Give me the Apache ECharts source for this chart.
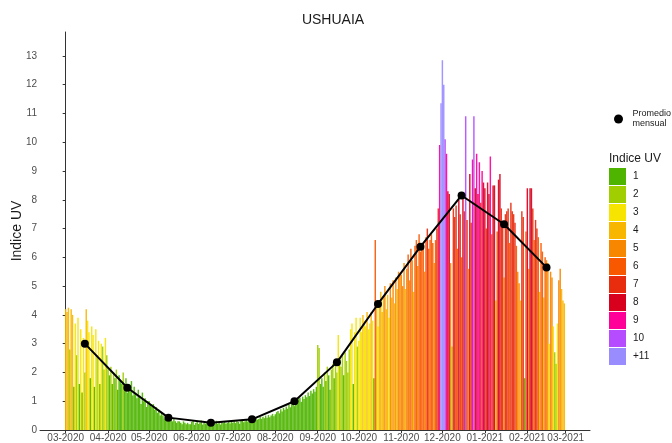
<!DOCTYPE html>
<html>
<head>
<meta charset="utf-8">
<script src="https://cdn.jsdelivr.net/npm/echarts@6/dist/echarts.min.js"></script>
<style>
  html, body { margin: 0; padding: 0; background: #fff; }
  #chart { width: 672px; height: 443px; }
</style>
</head>
<body>
<div id="chart"></div>
<script>
// ---- Data (daily UV index, Ushuaia, 2020-03-01 .. 2021-02-28) ----
const startDate = '2020-03-01';
const uvMar2020 = [4.2,4.1,4.25,2.8,4.2,4.0,1.5,3.7,2.6,3.9,1.6,3.5,1.3,3.2,2.0,4.2,3.8,3.4,1.8,3.6,3.3,1.5,3.5,2.6,3.1,1.6,3.0,2.9,2.1,3.2,2.6];
const uvApr2020 = [2.1,1.9,2.2,1.6,2.0,1.8,2.1,1.4,1.9,1.7,1.6,2.0,1.5,1.8,1.3,1.6,1.4,1.7,1.2,1.5,1.3,1.1,1.4,1.2,0.9,1.3,1.0,1.1,0.8,1.0];
const uvMay2020 = [1.0,0.9,0.8,0.9,0.7,0.8,0.6,0.7,0.5,0.6,0.5,0.4,0.5,0.4,0.3,0.4,0.35,0.3,0.4,0.3,0.25,0.3,0.3,0.25,0.2,0.3,0.25,0.2,0.25,0.2,0.2];
const uvJun2020 = [0.28,0.31,0.18,0.24,0.3,0.21,0.26,0.33,0.19,0.24,0.22,0.29,0.25,0.17,0.3,0.27,0.2,0.23,0.32,0.21,0.26,0.19,0.28,0.24,0.31,0.22,0.25,0.29,0.23,0.3];
const uvJul2020 = [0.25,0.31,0.24,0.3,0.28,0.22,0.33,0.35,0.27,0.3,0.36,0.29,0.41,0.34,0.28,0.4,0.33,0.42,0.36,0.38,0.45,0.39,0.46,0.41,0.5,0.43,0.52,0.44,0.5,0.56,0.48];
const uvAug2020 = [0.55,0.62,0.66,0.58,0.72,0.64,0.77,0.7,0.82,0.74,0.87,0.79,0.92,0.96,0.83,1.02,0.94,1.07,1.12,0.98,1.16,1.08,1.21,1.14,1.3,1.18,1.36,1.27,1.42,1.33,1.5];
const uvSep2020 = [2.95,2.85,1.6,1.8,1.5,2.0,1.7,2.2,1.9,1.4,2.1,2.3,1.8,2.4,2.0,3.3,2.5,2.2,2.6,1.9,2.7,2.4,2.0,2.8,3.5,3.7,1.6,3.4,3.9,2.9];
const uvOct2020 = [3.1,3.9,3.4,4.0,3.8,3.6,4.1,3.5,3.7,4.1,3.8,1.8,6.6,4.3,3.6,4.5,4.8,4.1,4.6,5.0,4.2,4.7,3.9,5.1,4.6,5.2,4.4,5.3,4.9,5.5,5.4];
const uvNov2020 = [5.4,5.0,5.8,4.9,5.6,6.1,5.2,6.3,5.9,4.8,6.4,6.6,5.7,6.8,6.2,6.3,6.5,5.5,6.7,7.0,6.3,6.6,6.8,6.5,5.8,6.6,7.0,7.7,9.9,11.35];
const uvDec2020 = [12.85,12.0,10.1,9.6,8.3,8.2,5.8,2.9,7.7,7.4,7.8,6.3,8.0,7.5,6.0,8.2,7.6,10.9,7.3,5.6,8.9,7.2,9.4,10.9,8.4,9.6,8.2,9.3,7.9,9.0,8.6];
const uvJan2021 = [8.4,7.0,8.6,8.2,9.5,6.8,8.5,8.5,4.5,6.9,8.7,8.9,7.7,7.2,5.3,7.5,7.6,7.7,6.5,7.9,7.6,7.5,7.2,6.4,5.5,5.1,4.5,7.6,7.4,1.8,6.9];
const uvFeb2021 = [8.4,5.6,8.4,8.4,7.7,6.6,7.3,7.0,6.7,4.8,6.5,6.2,4.6,6.0,5.9,5.8,3.0,5.5,5.3,3.6,2.7,2.3,3.7,5.2,5.6,4.9,4.5,4.4];

// Monthly averages ("Promedio mensual"), plotted mid-month
const meanDates  = ['2020-03-15','2020-04-15','2020-05-15','2020-06-15','2020-07-15','2020-08-15','2020-09-15','2020-10-15','2020-11-15','2020-12-15','2021-01-15','2021-02-15'];
const meanValues = [3.0, 1.47, 0.43, 0.25, 0.37, 1.0, 2.35, 4.38, 6.37, 8.15, 7.15, 5.65];

// Axis ticks
const monthTicks = ['2020-03-01','2020-04-01','2020-05-01','2020-06-01','2020-07-01','2020-08-01','2020-09-01','2020-10-01','2020-11-01','2020-12-01','2021-01-01','2021-02-01','2021-03-01'];
const yTicks = [0,1,2,3,4,5,6,7,8,9,10,11,12,13];

// UV categories (class n = [n, n+1), class 1 also holds values below 1, "+11" = 11 and above)
const uvLabels = ['1','2','3','4','5','6','7','8','9','10','+11'];
const uvColors = ['#4EB400','#A0CE00','#F7E400','#F8B600','#F88700','#F85900','#E82C0E','#D8001D','#FF0099','#B54CFF','#998CFF'];

// ---- Build ----
const uvDaily = [].concat(uvMar2020, uvApr2020, uvMay2020, uvJun2020, uvJul2020, uvAug2020,
                          uvSep2020, uvOct2020, uvNov2020, uvDec2020, uvJan2021, uvFeb2021);
const DAY = 86400000;
const utc = s => { const p = s.split('-').map(Number); return Date.UTC(p[0], p[1] - 1, p[2]); };
const t0 = utc(startDate);
const dayOf = s => Math.round((utc(s) - t0) / DAY);       // days since 1 March 2020
const dateOfDay = d => new Date(t0 + d * DAY);

const barData = uvDaily.map((v, i) => [i, v]);            // day i = startDate + i days
const meanData = meanDates.map((d, i) => [dayOf(d), meanValues[i]]);
const xTickValues = monthTicks.map(dayOf);
const pad = n => (n < 10 ? '0' : '') + n;

const pieces = uvLabels.map((lab, i) => {
  const p = { label: lab, color: uvColors[i] };
  if (i > 0) p.gte = i + 1;
  if (i < uvLabels.length - 1) p.lt = i + 2;
  return p;
});

const FONT = '"Liberation Sans", Arial, sans-serif';
const chart = echarts.init(document.getElementById('chart'), null, { renderer: 'canvas' });
chart.setOption({
  animation: false,
  textStyle: { fontFamily: FONT },
  title: [
    { text: 'USHUAIA', left: 328, top: 8, textAlign: 'center',
      textStyle: { fontSize: 14, fontWeight: 'normal', color: '#1a1a1a', fontFamily: FONT } },
    { text: 'Indice UV', left: 604, top: 148,
      textStyle: { fontSize: 12, fontWeight: 'normal', color: '#1a1a1a', fontFamily: FONT } }
  ],
  grid: { left: 40, right: 82, top: 32, bottom: 13, containLabel: false, outerBoundsMode: 'none' },
  legend: {
    data: [{ name: 'Promedio\nmensual', icon: 'circle' }],
    left: 609, top: 104, itemWidth: 18, itemHeight: 9, itemGap: 4,
    selectedMode: false,
    textStyle: { fontSize: 9, color: '#1a1a1a', fontFamily: FONT, lineHeight: 10 }
  },
  visualMap: {
    type: 'piecewise', seriesIndex: 0, dimension: 1,
    pieces: pieces, inverse: true, orient: 'vertical', align: 'left',
    left: 594, top: 153, itemWidth: 17, itemHeight: 17, itemGap: 1, textGap: 7,
    itemSymbol: 'rect', selectedMode: false, hoverLink: false,
    textStyle: { fontSize: 10, color: '#1a1a1a', fontFamily: FONT }
  },
  xAxis: {
    type: 'value',
    min: -18.75, max: uvDaily.length - 1 + 18.75,
    splitLine: { show: false },
    axisLine: { show: true, lineStyle: { color: '#333', width: 1 } },
    axisTick: { show: true, length: 3, lineStyle: { color: '#333' }, customValues: xTickValues },
    axisLabel: {
      customValues: xTickValues, fontSize: 10, color: '#4d4d4d', margin: 3, fontFamily: FONT,
      formatter: v => { const d = dateOfDay(v); return pad(d.getUTCMonth() + 1) + '-' + d.getUTCFullYear(); }
    }
  },
  yAxis: {
    type: 'value', min: 0, max: 13.83,
    name: 'Indice UV', nameLocation: 'middle', nameGap: 16, nameRotate: 90, nameMoveOverlap: false,
    nameTextStyle: { fontSize: 14, color: '#1a1a1a', fontFamily: FONT },
    splitLine: { show: false },
    axisLine: { show: true, lineStyle: { color: '#333', width: 1 } },
    axisTick: { show: true, length: 3, lineStyle: { color: '#333' }, customValues: yTicks },
    axisLabel: { customValues: yTicks, fontSize: 10, color: '#4d4d4d', margin: 3, fontFamily: FONT }
  },
  series: [
    {
      type: 'bar', name: 'UV', data: barData, barWidth: 1.45,
      itemStyle: { opacity: 0.92 }, silent: true
    },
    {
      type: 'line', name: 'Promedio\nmensual', data: meanData,
      symbol: 'circle', symbolSize: 8, z: 5,
      lineStyle: { color: '#000', width: 2 }, itemStyle: { color: '#000' }
    }
  ]
});
</script>
</body>
</html>
